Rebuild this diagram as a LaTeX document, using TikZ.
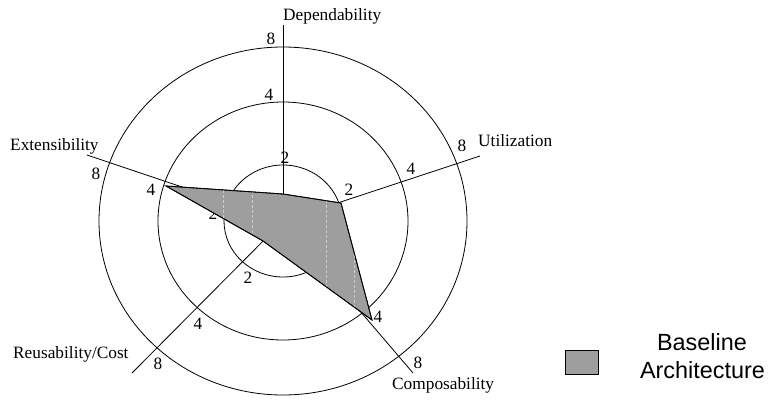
\documentclass[tikz,border=0pt]{standalone}
\usepackage{fontspec}
\setmainfont{Liberation Serif}
\newfontfamily\legfont{Liberation Sans}
\definecolor{areagray}{RGB}{158,158,158}
\definecolor{streak}{RGB}{205,205,205}
\tikzset{
  ring/.style={draw=black, line width=0.8pt},
  axisline/.style={draw=black, line width=0.8pt},
  area/.style={draw=black, line width=0.8pt, fill=areagray},
  tick/.style={inner sep=0pt, font=\fontsize{17.3}{20}\selectfont},
  axlabel/.style={inner sep=0pt, anchor=base west, font=\fontsize{17.3}{20}\selectfont},
  legtxt/.style={inner sep=0pt, anchor=base, font=\legfont\fontsize{23.4}{28}\selectfont},
  legbox/.style={draw=black, line width=0.8pt, fill=areagray},
  streakline/.style={draw=streak, line width=0.5pt, dash pattern=on 3pt off 2pt}
}
\begin{document}
\begin{tikzpicture}[x=1pt,y=-1pt]
\useasboundingbox (0,0) rectangle (771,399);
\coordinate (O) at (283,221);
% rings
\draw[ring] (O) ellipse [x radius=59pt, y radius=56pt];
\draw[ring] (O) ellipse [x radius=125pt, y radius=119pt];
\draw[ring] (O) ellipse [x radius=184pt, y radius=174pt];
% axis ends
\coordinate (Edep) at (283,25);
\coordinate (Eutil) at (480,156);
\coordinate (Eext) at (87,155);
\coordinate (Ereu) at (132,373);
\coordinate (Ecomp) at (413,373);
\draw[axisline] (O) -- (Edep);
\draw[axisline] (O) -- (Eutil);
\draw[axisline] (O) -- (Eext);
\draw[axisline] (O) -- (Ereu);
\draw[axisline] (O) -- (Ecomp);
% label partly hidden by area
\node[tick] (ext2) at (213,214) {2};
% area
\coordinate (Vext) at (166,186);
\coordinate (Vdep) at (283,194);
\coordinate (Vutil) at (341,203);
\coordinate (Vcomp) at (372,320);
\coordinate (Vreu) at (263,241);
\path[area] (Vext) -- (Vdep) -- (Vutil) -- (Vcomp) -- (Vreu) -- cycle;
\begin{scope}
\clip (Vext) -- (Vdep) -- (Vutil) -- (Vcomp) -- (Vreu) -- cycle;
\draw[streakline] (223,150) -- (223,340);
\draw[streakline] (252,150) -- (252,340);
\draw[streakline] (326,150) -- (326,340);
\draw[streakline] (354,150) -- (354,340);
\end{scope}
\path[draw=black, line width=0.8pt] (Vext) -- (Vdep) -- (Vutil) -- (Vcomp) -- (Vreu) -- cycle;
% tick labels
\node[tick] (dep8) at (271,39) {8};
\node[tick] (dep4) at (269,95) {4};
\node[tick] (dep2) at (285,158) {2};
\node[tick] (util2) at (349,190) {2};
\node[tick] (util4) at (411,169) {4};
\node[tick] (util8) at (462,146) {8};
\node[tick] (ext8) at (96,174) {8};
\node[tick] (ext4) at (151,190) {4};
\node[tick] (reu2) at (248,278) {2};
\node[tick] (reu4) at (198,324) {4};
\node[tick] (reu8) at (158,364) {8};
\node[tick] (comp4) at (378,317) {4};
\node[tick] (comp8) at (418,363) {8};
% axis labels
\node[axlabel] (ldep) at (283,20) {Dependability};
\node[axlabel] (lutil) at (478,146.5) {Utilization};
\node[axlabel] (lext) at (10,150) {Extensibility};
\node[axlabel] (lreu) at (13,358) {Reusability/Cost};
\node[axlabel] (lcomp) at (392,389) {Composability};
% legend
\path[legbox] (565,350) rectangle (598,374);
\node[legtxt] (leg1) at (702,350) {Baseline};
\node[legtxt] (leg2) at (702.5,378) {Architecture};
\end{tikzpicture}
\end{document}
